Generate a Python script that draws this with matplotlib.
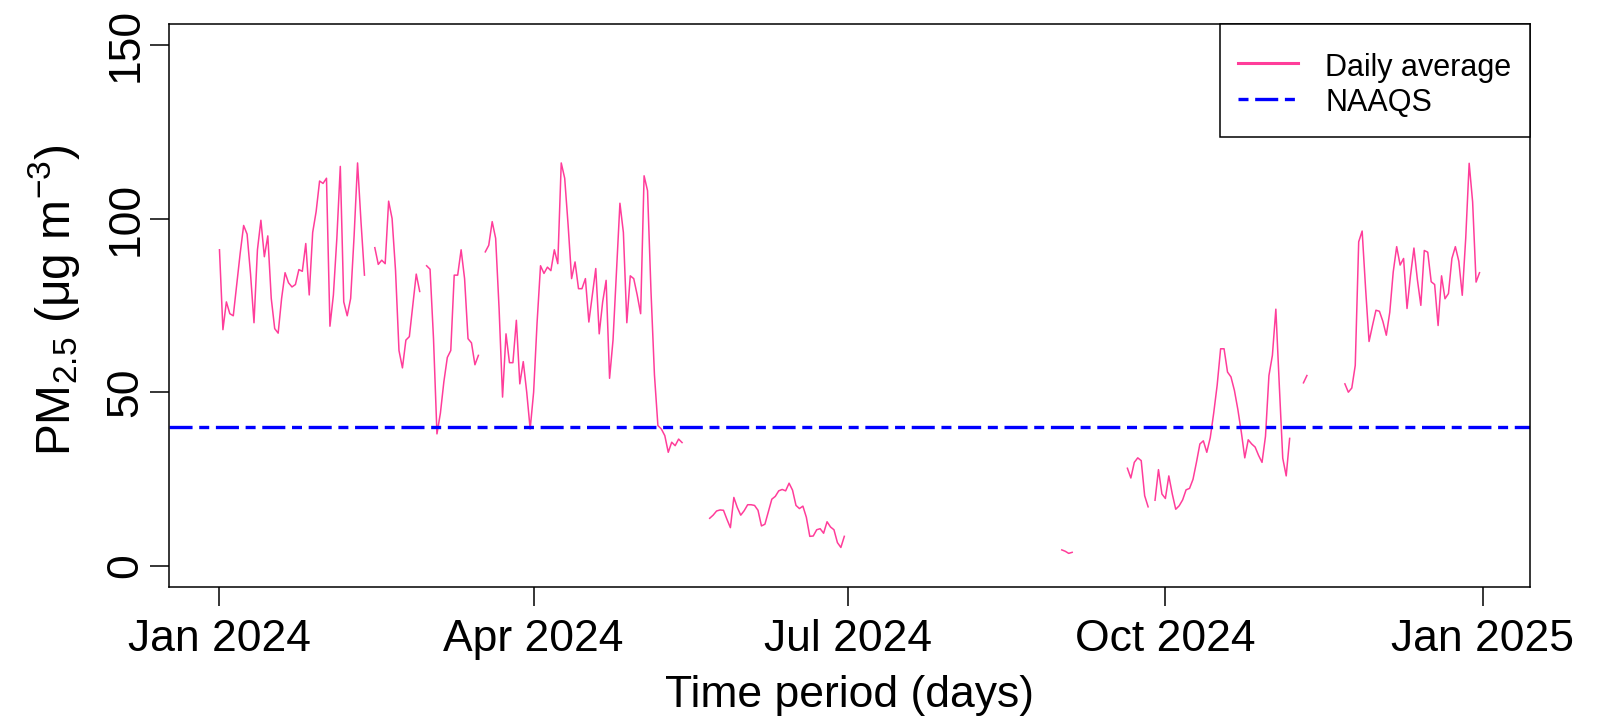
import numpy as np
import pandas as pd
import matplotlib
matplotlib.use('Agg')
import matplotlib.pyplot as plt
from matplotlib.lines import Line2D

###########################
# Data (daily PM2.5, one list per month, nan = no data)
###########################

nan = np.nan

JAN = [91, 68, 76, 72.6, 72, 81, 90, 98, 95.5, 84, 70, 91, 99.5, 89, 95, 77,
       68.3, 67, 77, 84.4, 81.5, 80.3, 81, 85.3, 84.8, 92.8, 78, 96, 102, 110.8, 110.1]
FEB = [111.6, 69, 78, 94.3, 115, 76, 72, 77, 95, 116, 99, 83.7, nan, nan, 91.6,
       86.8, 88, 87, 105, 100, 85, 62, 57, 65, 66, 75, 84, 79, nan]
MAR = [86.4, 85.4, 65.4, 38, 44, 53, 60, 62, 83.7, 83.7, 91, 82.7, 65.4, 64.2,
       57.9, 60.6, nan, 90.4, 92.3, 99.1, 94.3, 74, 48.6, 66.8, 58.5, 58.5, 70.7,
       52.4, 58.8, 50, 39.4]
APR = [50, 70, 86.4, 84.2, 86, 85, 91, 87, 116, 111.6, 98, 82.7, 87.5, 79.8, 79.8,
       82.7, 70.2, 78, 85.6, 66.8, 76, 82.2, 54, 65, 84.7, 104.4, 96, 70, 83.5, 82.7]
MAY = [78, 72.6, 112.3, 108, 79, 55, 40.4, 39.4, 37.5, 32.7, 35.6, 34.6, 36.5, 35.5,
       nan, nan, nan, nan, nan, nan, nan,
       13.7, 14.6, 15.8, 16.1, 16, 13.4, 11, 19.7, 16.8, 14.6]
JUN = [15.9, 17.6, 17.6, 17.4, 16, 11.5, 12, 15.6, 19.2, 20, 21.6, 22, 21.6, 23.8,
       21.8, 17.4, 16.5, 17.2, 14, 8.5, 8.6, 10.4, 10.7, 9.4, 12.7, 11.2, 10.4, 6.7,
       5.3, 8.5]
JUL = [nan] * 31
AUG = [nan] * 31
SEP = [4.6, 4.2, 3.6, 3.9] + [nan] * 15 + [28.1, 25.3, 29.8, 31.1, 30.3, 20.2, 17,
       nan, 18.9, 27.7, 20.7]
OCT = [19.4, 25.9, 20.7, 16.3, 17.3, 19, 21.9, 22.3, 24.9, 29.8, 35.1, 36, 32.7,
       36.9, 44, 52, 62.5, 62.5, 55.8, 54.4, 50.5, 45, 38.5, 31.1, 36.3, 35.1, 34.2,
       31.8, 29.8, 37.3, 54.8]
NOV = [60.6, 73.9, 52, 31, 25.9, 36.7, nan, nan, nan, 52.7, 54.8] + [nan] * 10 + \
      [52.4, 50, 51.2, 57.7, 93.3, 96.4, 79.8, 64.6, 69.2]
DEC = [73.6, 73.3, 70.4, 66.4, 73, 84.6, 91.9, 86.6, 88.5, 74.1, 83.5, 91.5, 82.4,
       75, 90.8, 90.3, 81.8, 81, 69.2, 83.5, 76.9, 78.4, 88.5, 91.9, 87.7, 77.9,
       94.3, 115.9, 104.8, 81.7, 84.4]

NAAQS = 40
START_DATE = '2024-01-01'
TICK_DATES = ['2024-01-01', '2024-04-01', '2024-07-01', '2024-10-01', '2025-01-01']
TICK_LABELS = ['Jan 2024', 'Apr 2024', 'Jul 2024', 'Oct 2024', 'Jan 2025']
Y_TICKS = [0, 50, 100, 150]

PINK = '#ff3d9a'
BLUE = '#0000ff'
FS = 32

###########################
# Plot
###########################

plt.rcParams['font.family'] = ['Liberation Sans', 'DejaVu Sans']
plt.rcParams['mathtext.fontset'] = 'custom'
plt.rcParams['mathtext.rm'] = 'Liberation Sans'
plt.rcParams['mathtext.it'] = 'Liberation Sans:italic'
plt.rcParams['mathtext.default'] = 'regular'
plt.rcParams['lines.scale_dashes'] = False


def main():
    pm = np.array(JAN + FEB + MAR + APR + MAY + JUN + JUL + AUG + SEP + OCT + NOV + DEC,
                  dtype=float)
    days = pd.date_range(START_DATE, periods=len(pm), freq='D')

    fig = plt.figure(figsize=(15.98, 7.23), dpi=100)
    ax = fig.add_axes([0.1058, 0.1885, 0.8516, 0.7783])

    ax.plot(days, pm, color=PINK, lw=1.1)
    dash = (16.6, 4.8, 7.2, 4.8)
    ax.axhline(NAAQS, color=BLUE, lw=2.4, linestyle=(0, dash), dash_capstyle='butt')

    pad = pd.Timedelta(days=0.04 * (len(pm) - 1))
    ax.set_xlim(days[0] - pad, days[-1] + pad)
    ax.set_ylim(-6, 156)

    ax.set_xticks(pd.to_datetime(TICK_DATES))
    ax.set_xticklabels(TICK_LABELS, fontsize=FS)
    ax.set_yticks(Y_TICKS)
    ax.set_yticklabels([str(v) for v in Y_TICKS], fontsize=FS, rotation=90, va='center')
    ax.tick_params(axis='both', length=13.5, width=1.1, color='black')
    ax.tick_params(axis='x', pad=10)
    ax.tick_params(axis='y', pad=3)
    for s in ax.spines.values():
        s.set_linewidth(1.1)
        s.set_color('black')

    ax.set_xlabel('Time period (days)', fontsize=FS)
    ax.xaxis.set_label_coords(0.5, -0.157)
    ax.set_ylabel(r'PM$_{2.5}$ (μg m$^{-3}$)', fontsize=34.5)
    ax.yaxis.set_label_coords(-0.064, 0.51)

    handles = [
        Line2D([], [], color=PINK, lw=2.2),
        Line2D([], [], color=BLUE, lw=2.4, linestyle=(dash[0] + dash[1], dash),
               dash_capstyle='butt'),
    ]
    # blank title used only as a small spacer above the entries
    leg = ax.legend(handles, ['Daily average', 'NAAQS'], loc='upper right',
                    bbox_to_anchor=(1, 1), borderaxespad=0, fontsize=22,
                    title=' ', title_fontsize=4,
                    fancybox=False, edgecolor='black', framealpha=1,
                    handlelength=1.95, handleheight=1.14, handletextpad=0.9,
                    labelspacing=0.1, borderpad=0.6)
    leg.get_frame().set_linewidth(1.1)

    fig.savefig('out.png', dpi=100)


main()
